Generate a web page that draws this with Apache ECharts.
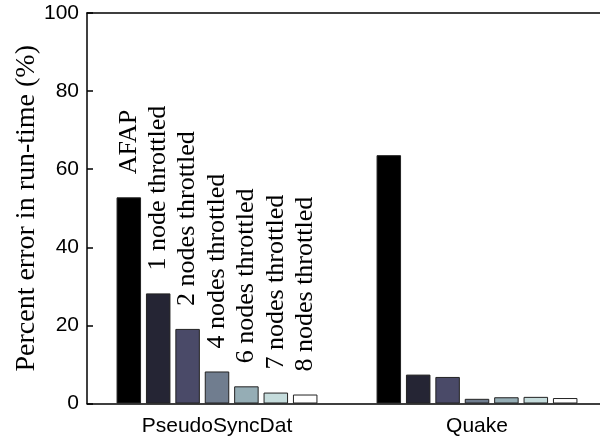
<!DOCTYPE html>
<html>
<head>
<meta charset="utf-8">
<script src="https://cdn.jsdelivr.net/npm/echarts@6/dist/echarts.min.js"></script>
<style>
  html, body { margin: 0; padding: 0; background: #fff; overflow: hidden; }
  /* plot box runs a few px past the right edge of the window, as in the original figure */
  #chart { width: 607px; height: 436px; }
</style>
</head>
<body>
<div id="chart"></div>
<script>
// categories and series
const categories = ['PseudoSyncDat', 'Quake'];
const seriesNames = ['AFAP', '1 node throttled', '2 nodes throttled', '4 nodes throttled',
  '6 nodes throttled', '7 nodes throttled', '8 nodes throttled'];
const afap = [52.8, 63.6];
const node1 = [28.2, 7.4];
const nodes2 = [19.1, 6.8];
const nodes4 = [8.2, 1.2];
const nodes6 = [4.4, 1.6];
const nodes7 = [2.8, 1.7];
const nodes8 = [2.3, 1.4];
const yTicks = [0, 20, 40, 60, 80, 100];

// bone colormap, 7 steps
const colors = ['#000000', '#252534', '#4a4a68', '#707d8f', '#95adb5', '#c5dcdc', '#ffffff'];

const allData = [afap, node1, nodes2, nodes4, nodes6, nodes7, nodes8];

const chart = echarts.init(document.getElementById('chart'));

const series = allData.map((vals, i) => ({
  name: seriesNames[i],
  type: 'bar',
  barWidth: 24.5,
  barGap: '20%',
  itemStyle: { color: colors[i], borderColor: '#222', borderWidth: 1 },
  data: vals.map((v, j) => ({
    value: v,
    label: {
      show: j === 0,
      position: 'top',
      rotate: 90,
      align: 'left',
      verticalAlign: 'middle',
      distance: 23,
      formatter: seriesNames[i],
      fontFamily: '"Liberation Serif", "Times New Roman", serif',
      fontSize: 26,
      color: '#000'
    }
  }))
}));

chart.setOption({
  animation: false,
  backgroundColor: '#fff',
  grid: { left: 87, right: 0, top: 13, bottom: 32.5, outerBoundsMode: 'none' },
  xAxis: [
    {
      type: 'category',
      data: categories,
      axisLine: { lineStyle: { color: '#000', width: 1.5 } },
      axisTick: { show: false },
      axisLabel: {
        fontFamily: '"Liberation Sans", Arial, sans-serif',
        fontSize: 21,
        color: '#000',
        margin: 12
      }
    },
    {
      type: 'category',
      data: categories,
      position: 'top',
      axisLine: { lineStyle: { color: '#000', width: 1.5 } },
      axisTick: { inside: true, alignWithLabel: true, length: 5, lineStyle: { color: '#000', width: 1.5 } },
      axisLabel: { show: false }
    }
  ],
  yAxis: {
    type: 'value',
    min: yTicks[0],
    max: yTicks[yTicks.length - 1],
    interval: 20,
    name: 'Percent error in run-time (%)',
    nameLocation: 'middle',
    nameGap: 46,
    nameMoveOverlap: false,
    nameTextStyle: {
      fontFamily: '"Liberation Serif", "Times New Roman", serif',
      fontSize: 28,
      color: '#000'
    },
    splitLine: { show: false },
    axisLine: { show: true, lineStyle: { color: '#000', width: 1.5 } },
    axisTick: { show: true, inside: true, length: 6, lineStyle: { color: '#000', width: 1.5 } },
    axisLabel: {
      fontFamily: '"Liberation Sans", Arial, sans-serif',
      fontSize: 21,
      color: '#000',
      margin: 8
    }
  },
  series: series
});
</script>
</body>
</html>
